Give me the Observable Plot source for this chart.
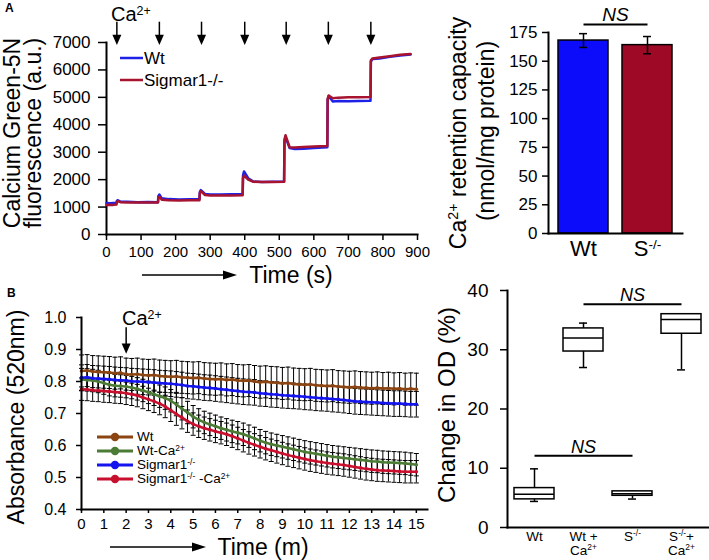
<!DOCTYPE html>
<html><head><meta charset="utf-8">
<script src="https://cdn.jsdelivr.net/npm/d3@7"></script>
<script src="https://cdn.jsdelivr.net/npm/@observablehq/plot@0.6"></script>
<style>
body{margin:0;background:#fff;}
#fig{position:relative;width:709px;height:560px;overflow:hidden;font-family:'Liberation Sans',Arial,sans-serif;color:#000;background:#fff;}
.abs{position:absolute;white-space:nowrap;line-height:1;}
.sup{font-size:0.62em;vertical-align:0.5em;line-height:0;}
.vt{position:absolute;white-space:nowrap;line-height:1;transform:translate(-50%,-50%) rotate(-90deg);}
</style></head><body><div id="fig"></div>
<script>
// ---------------- DATA ----------------
// Panel A (left): Calcium Green-5N traces
const timeA = [0,10,20,29,30,33,40,60,90,120,149,150,153,160,180,210,240,269,270,273,285,300,330,360,394,395,398,410,425,450,480,514,515,518,530,545,570,600,639,640,643,655,670,700,730,764,765,770,790,820,850,880];
const wtA  = [1150,1140,1150,1145, 1230,1250,1200,1190,1180,1185,1180, 1400,1460,1320,1290,1280,1285,1290, 1550,1620,1480,1460,1460,1465,1470, 2150,2300,2050,1930,1910,1920,1930, 3400,3550,3150,3120,3130,3150,3180, 4900,5050,4850,4870,4860,4870,4880, 6300,6400,6420,6480,6530,6560];
const sigA = [1080,1085,1080,1090, 1190,1220,1180,1170,1165,1170,1170, 1330,1380,1270,1250,1240,1245,1250, 1500,1580,1440,1420,1420,1425,1430, 2050,2150,2000,1920,1910,1910,1920, 3450,3620,3180,3170,3190,3210,3230, 4950,5070,4970,4990,5000,5000,5010, 6350,6420,6450,6500,6550,6580];
const caTimesA = [30,153,275,400,520,642,765];
const xTicksA = [0,100,200,300,400,500,600,700,800,900];
const yTicksA = [0,1000,2000,3000,4000,5000,6000,7000];

// Panel A (right): Ca2+ retention capacity
const groupsA = ["Wt","S^{-/-}"];
const crcMean = [168,164];
const crcSem = [6,7.5];
const yTicksAR = [0,25,50,75,100,125,150,175];

// Panel B (left): Absorbance 520nm, every 0.25 min from 0 to 15
const stepB = 0.25;
const wtB = [.833,.834,.831,.830, .829,.828,.826,.827, .823,.822,.823,.820, .819,.820,.817,.816, .815,.816,.813,.812, .811,.812,.809,.808, .807,.808,.805,.806, .803,.802,.803,.800, .798,.799,.797,.796, .794,.795,.792,.791, .790,.791,.788,.787, .786,.787,.784,.783, .782,.783,.781,.780, .779,.780,.778,.779, .777,.778,.776,.777, .776];
const wtCaB = [.806,.805,.803,.800, .795,.790,.787,.786, .784,.781,.777,.772, .766,.760,.754,.748, .740,.728,.715,.703, .690,.680,.672,.666, .660,.654,.649,.644, .640,.635,.629,.622, .615,.609,.604,.600, .596,.592,.588,.584, .580,.577,.574,.571, .568,.565,.563,.561, .559,.557,.555,.553, .551,.550,.548,.547, .546,.545,.544,.542, .540];
const sigB = [.812,.813,.810,.809, .808,.807,.805,.804, .803,.801,.800,.799, .798,.797,.795,.794, .793,.791,.789,.786, .785,.783,.781,.780, .778,.776,.774,.772, .770,.768,.767,.766, .763,.762,.760,.759, .757,.756,.755,.754, .752,.751,.749,.748, .747,.745,.744,.742, .740,.738,.737,.736, .735,.734,.733,.732, .731,.731,.730,.729, .729];
const sigCaB = [.776,.775,.773,.772, .770,.769,.767,.766, .763,.760,.756,.750, .744,.738,.731,.722, .710,.698,.687,.676, .667,.660,.654,.649, .644,.640,.635,.629, .622,.615,.608,.602, .596,.590,.585,.580, .575,.570,.566,.562, .558,.554,.551,.548, .545,.543,.541,.539, .536,.533,.530,.527, .525,.523,.522,.521, .520,.519,.518,.518, .518];
const seriesB = ["Wt","Wt-Ca^{2+}","Sigmar1^{-/-}","Sigmar1^{-/-} -Ca^{2+}"];
const semB = [0.05, 0.035, 0.04, 0.035];
const colorsB = ["#8b4513","#4b7b35","#1414ee","#c8102e"];
const caTimeB = [2];
const xTicksB = [0,1,2,3,4,5,6,7,8,9,10,11,12,13,14,15];
const yTicksB = [0.4,0.5,0.6,0.7,0.8,0.9,1.0];

// Panel B (right): Change in OD box plots
const boxCats = ["Wt","WtCa","S","SCa"];
const boxLabels = ["Wt","Wt +\nCa^{2+}","S^{-/-}","S^{-/-}+\nCa^{2+}"];
const boxMin = [4.4, 27.0, 4.8, 26.6];
const boxQ1  = [4.75, 29.7, 5.35, 32.7];
const boxMed = [5.6, 32.0, 5.7, 35.1];
const boxQ3  = [6.65, 33.6, 6.1, 36.0];
const boxMax = [9.9, 34.5, 6.1, 36.0];
const yTicksBR = [0,10,20,30,40];

// ---------------- HELPERS ----------------
const fig = document.getElementById("fig");
const FONT = "'Liberation Sans',Arial,sans-serif";
const style = {background: "none", overflow: "visible", fontFamily: FONT, color: "#000"};

function supify(root) {
  root.querySelectorAll("text, tspan").forEach(el => {
    if (el.children.length) return;
    const s = el.textContent;
    if (!s.includes("^{")) return;
    el.textContent = "";
    const re = /\^\{([^}]*)\}/g;
    let last = 0, m;
    while ((m = re.exec(s))) {
      if (m.index > last) el.appendChild(document.createTextNode(s.slice(last, m.index)));
      const t = document.createElementNS("http://www.w3.org/2000/svg", "tspan");
      t.setAttribute("baseline-shift", "super");
      t.setAttribute("font-size", "62%");
      t.textContent = m[1];
      el.appendChild(t);
      last = re.lastIndex;
    }
    if (last < s.length) el.appendChild(document.createTextNode(s.slice(last)));
  });
}
function mount(svg, left, top) {
  supify(svg);
  svg.style.position = "absolute";
  svg.style.left = left + "px";
  svg.style.top = top + "px";
  fig.appendChild(svg);
}
function html(s) { return s.replace(/\^\{([^}]*)\}/g, '<span class="sup">$1</span>'); }
function text(s, x, y, size, o = {}) {
  const d = document.createElement("div");
  d.className = o.rot ? "vt" : "abs";
  d.innerHTML = html(s);
  d.style.left = x + "px"; d.style.top = y + "px"; d.style.fontSize = size + "px";
  if (!o.rot) d.style.transform = o.left ? "translate(0,-50%)" : (o.tl ? "none" : "translate(-50%,-50%)");
  if (o.bold) d.style.fontWeight = "bold";
  fig.appendChild(d);
}
function hArrow(x1, x2, y) {
  const svg = d3.create("svg").attr("width", 709).attr("height", 560)
    .style("position", "absolute").style("left", "0px").style("top", "0px").style("overflow", "visible");
  svg.append("line").attr("x1", x1).attr("x2", x2 - 12).attr("y1", y).attr("y2", y).attr("stroke", "#000").attr("stroke-width", 1.5);
  svg.append("path").attr("d", `M${x2},${y}L${x2 - 14},${y - 4.5}L${x2 - 14},${y + 4.5}Z`).attr("fill", "#000");
  fig.appendChild(svg.node());
}
const triDown = {draw(ctx, size) { const r = Math.sqrt(size / Math.PI); ctx.moveTo(-r, -r); ctx.lineTo(r, -r); ctx.lineTo(0, r * 1.3); ctx.closePath(); }};
const hline = {draw(ctx, size) { const r = Math.sqrt(size / Math.PI); ctx.moveTo(-r, 0); ctx.lineTo(r, 0); }};

// ---------------- PANEL A LEFT ----------------
const traceWt = timeA.map((t, i) => ({t, v: wtA[i]}));
const traceSig = timeA.map((t, i) => ({t, v: sigA[i]}));
mount(Plot.plot({
  width: 430, height: 275, marginLeft: 106, marginRight: 13, marginTop: 42, marginBottom: 41,
  style,
  x: {domain: [0, 900], label: null},
  y: {domain: [0, 7000], label: null},
  marks: [
    Plot.axisY({ticks: yTicksA, tickSize: 8, tickPadding: 8, fontSize: 17, strokeWidth: 1.5, label: null, tickFormat: d3.format("d")}),
    Plot.axisX({ticks: xTicksA, tickSize: 6, tickPadding: 6, fontSize: 15, strokeWidth: 1.5, label: null, tickFormat: d3.format("d")}),
    Plot.frame({anchor: "left", strokeWidth: 2}),
    Plot.frame({anchor: "bottom", strokeWidth: 2}),
    Plot.line(traceWt, {x: "t", y: "v", stroke: "#1f22e6", strokeWidth: 2.5}),
    Plot.line(traceSig, {x: "t", y: "v", stroke: "#a8132f", strokeWidth: 2.5}),
    Plot.ruleX(caTimesA, {x: d => d, y1: 7740, y2: 7150, stroke: "#000", strokeWidth: 1.5}),
    Plot.dot(caTimesA, {x: d => d, y: 7120, r: 4.5, symbol: triDown, fill: "#000", stroke: "none"})
  ]
}), 0, 0);

// ---------------- PANEL A RIGHT ----------------
const crcData = groupsA.map((g, i) => ({g, mean: crcMean[i], lo: crcMean[i] - crcSem[i], hi: crcMean[i] + crcSem[i]}));
mount(Plot.plot({
  width: 279, height: 275, marginLeft: 118, marginRight: 27, marginTop: 32, marginBottom: 42,
  style,
  x: {domain: groupsA, padding: 0.215, paddingOuter: 0.14, label: null},
  y: {domain: [0, 175], label: null},
  color: {domain: groupsA, range: ["#0c0cfa", "#9e0a26"]},
  marks: [
    Plot.axisY({ticks: yTicksAR, tickSize: 6, tickPadding: 5, fontSize: 17, strokeWidth: 1.5, label: null}),
    Plot.axisX({tickSize: 0, tickPadding: 7, fontSize: 22, label: null}),
    Plot.barY(crcData, {x: "g", y: "mean", fill: "g", stroke: "#000", strokeWidth: 1.5}),
    Plot.ruleX(crcData, {x: "g", y1: "lo", y2: "hi", stroke: "#000", strokeWidth: 1.5}),
    Plot.tickY(crcData, {x: "g", y: "hi", stroke: "#000", strokeWidth: 1.5, insetLeft: 21, insetRight: 21}),
    Plot.tickY(crcData, {x: "g", y: "lo", stroke: "#000", strokeWidth: 1.5, insetLeft: 21, insetRight: 21}),
    Plot.frame({anchor: "left", strokeWidth: 2}),
    Plot.frame({anchor: "bottom", strokeWidth: 2}),
    Plot.link([0], {x1: () => groupsA[0], x2: () => groupsA[1], y1: 182, y2: 182, stroke: "#000", strokeWidth: 2}),
    Plot.text(["NS"], {x: () => groupsA[0], y: 182, dx: 32, dy: -3, text: d => d, lineAnchor: "bottom", fontSize: 19, fontStyle: "italic", fill: "#000"})
  ]
}), 430, 0);

// ---------------- PANEL B LEFT ----------------
const valsB = [wtB, wtCaB, sigB, sigCaB];
const rowsB = valsB.map((vals, s) => vals.map((v, i) => ({t: i * stepB, v, lo: v - semB[s], hi: v + semB[s]})));
const marksB = [];
rowsB.forEach(rows => {
  marksB.push(Plot.ruleX(rows, {x: "t", y1: "lo", y2: "hi", stroke: "#000", strokeWidth: 1}));
  marksB.push(Plot.dot(rows, {x: "t", y: "hi", r: 2.5, symbol: hline, stroke: "#000", strokeWidth: 1, fill: "none"}));
  marksB.push(Plot.dot(rows, {x: "t", y: "lo", r: 2.5, symbol: hline, stroke: "#000", strokeWidth: 1, fill: "none"}));
});
rowsB.forEach((rows, s) => {
  marksB.push(Plot.line(rows, {x: "t", y: "v", stroke: colorsB[s], strokeWidth: 2.5}));
  marksB.push(Plot.dot(rows, {x: "t", y: "v", r: 1.8, fill: colorsB[s], stroke: "none"}));
});
mount(Plot.plot({
  width: 430, height: 280, marginLeft: 81, marginRight: 3, marginTop: 37, marginBottom: 51,
  style,
  x: {domain: [0, 15.5], label: null},
  y: {domain: [0.4, 1.0], label: null},
  marks: [
    Plot.axisY({ticks: yTicksB, tickSize: 5, tickPadding: 10, fontSize: 16, strokeWidth: 1.5, label: null, tickFormat: d3.format(".1f")}),
    Plot.axisX({ticks: xTicksB, tickSize: 4, tickPadding: 5, fontSize: 15, strokeWidth: 1.5, label: null, tickFormat: d3.format("d")}),
    ...marksB,
    Plot.frame({anchor: "left", strokeWidth: 2}),
    Plot.frame({anchor: "bottom", strokeWidth: 2}),
    Plot.ruleX(caTimeB, {x: d => d, y1: 0.968, y2: 0.915, stroke: "#000", strokeWidth: 1.5}),
    Plot.dot(caTimeB, {x: d => d, y: 0.905, r: 4.5, symbol: triDown, fill: "#000", stroke: "none"})
  ]
}), 0, 280);

// ---------------- PANEL B RIGHT ----------------
const boxData = boxCats.map((c, i) => ({c, min: boxMin[i], q1: boxQ1[i], med: boxMed[i], q3: boxQ3[i], max: boxMax[i]}));
mount(Plot.plot({
  width: 279, height: 280, marginLeft: 77, marginRight: 1, marginTop: 10, marginBottom: 33,
  style,
  x: {domain: boxCats, padding: 0.19, paddingOuter: 0.14, label: null},
  y: {domain: [0, 40], label: null},
  marks: [
    Plot.axisY({ticks: yTicksBR, tickSize: 7, tickPadding: 12, fontSize: 19, strokeWidth: 1.5, label: null}),
    Plot.axisX({tickSize: 0, tickPadding: 3, fontSize: 13.5, lineHeight: 1.08, label: null, tickFormat: d => boxLabels[boxCats.indexOf(d)]}),
    Plot.ruleX(boxData, {x: "c", y1: "min", y2: "max", stroke: "#000", strokeWidth: 1.5}),
    Plot.tickY(boxData, {x: "c", y: "min", stroke: "#000", strokeWidth: 1.5, insetLeft: 16, insetRight: 16}),
    Plot.tickY(boxData, {x: "c", y: "max", stroke: "#000", strokeWidth: 1.5, insetLeft: 16, insetRight: 16}),
    Plot.barY(boxData, {x: "c", y1: "q1", y2: "q3", fill: "#fff", stroke: "#000", strokeWidth: 1.5}),
    Plot.tickY(boxData, {x: "c", y: "med", stroke: "#000", strokeWidth: 1.5}),
    Plot.frame({anchor: "left", strokeWidth: 2}),
    Plot.frame({anchor: "bottom", strokeWidth: 2}),
    Plot.link([0], {x1: () => "WtCa", x2: () => "SCa", y1: 37.7, y2: 37.7, stroke: "#000", strokeWidth: 2}),
    Plot.text(["NS"], {x: () => "S", y: 37.7, dy: -3, text: d => d, lineAnchor: "bottom", fontSize: 18, fontStyle: "italic", fill: "#000"}),
    Plot.link([0], {x1: () => "Wt", x2: () => "S", y1: 12.1, y2: 12.1, stroke: "#000", strokeWidth: 2}),
    Plot.text(["NS"], {x: () => "WtCa", y: 12.1, dy: -3, text: d => d, lineAnchor: "bottom", fontSize: 18, fontStyle: "italic", fill: "#000"})
  ]
}), 430, 280);

// ---------------- ANNOTATIONS ----------------
text("A", 5, 2, 12, {bold: true, tl: true});
text("B", 7, 287, 12, {bold: true, tl: true});
text("Ca^{2+}", 111, 13.5, 20, {left: true});
text("Ca^{2+}", 122, 318, 20, {left: true});

text("Calcium Green-5N", 12, 133, 23, {rot: true});
text("fluorescence (a.u.)", 33, 133, 23, {rot: true});
text("Ca^{2+} retention capacity", 458, 133, 23, {rot: true});
text("(nmol/mg protein)", 486, 131, 23, {rot: true});
text("Absorbance (520nm)", 16, 417, 23, {rot: true});
text("Change in OD (%)", 447, 405, 24, {rot: true});

text("Time (s)", 291, 275, 23);
hArrow(142, 237, 275);
text("Time (m)", 263, 547, 23);
hArrow(110, 206, 547);

// Legends
const legendRowY = [437, 451, 465, 479];
(function () {
  const svg = d3.create("svg").attr("width", 709).attr("height", 560)
    .style("position", "absolute").style("left", "0px").style("top", "0px").style("overflow", "visible");
  [["#1f22e6", 58], ["#a8132f", 80]].forEach(([c, y]) => svg.append("line").attr("x1", 120).attr("x2", 143).attr("y1", y).attr("y2", y).attr("stroke", c).attr("stroke-width", 2.5));
  seriesB.forEach((s, i) => {
    const y = legendRowY[i];
    svg.append("line").attr("x1", 97).attr("x2", 133).attr("y1", y).attr("y2", y).attr("stroke", colorsB[i]).attr("stroke-width", 3);
    svg.append("circle").attr("cx", 115).attr("cy", y).attr("r", 4.2).attr("fill", colorsB[i]);
  });
  fig.appendChild(svg.node());
})();
text("Wt", 144, 58, 17, {left: true});
text("Sigmar1-/-", 144, 80, 17, {left: true});
seriesB.forEach((s, i) => text(s, 137, legendRowY[i], 13.5, {left: true}));
</script></body></html>
